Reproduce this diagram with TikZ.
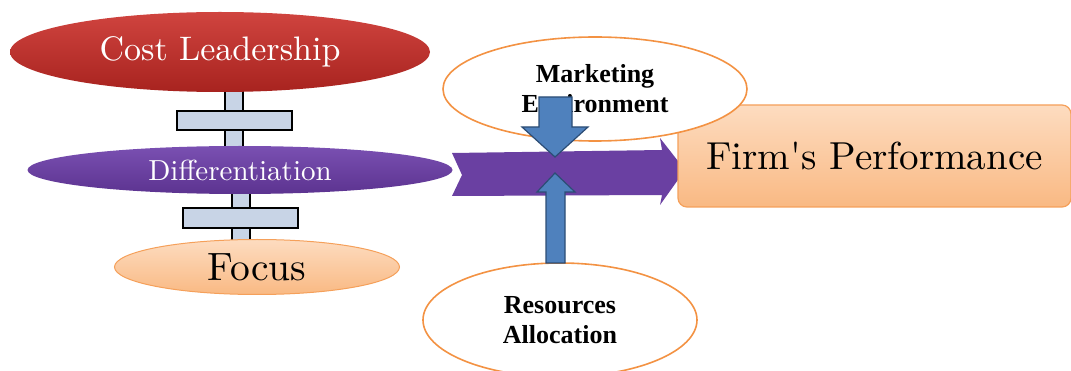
\documentclass[tikz,border=0pt]{standalone}
\usepackage{fontspec}
\newfontfamily\timesfont{Liberation Serif}
\newfontfamily\garfont{lmroman10-regular}[Extension=.otf]
\usetikzlibrary{shapes.geometric,calc}
\definecolor{costtop}{HTML}{D0443F}
\definecolor{costbot}{HTML}{A8231F}
\definecolor{difftop}{HTML}{7A50B2}
\definecolor{diffbot}{HTML}{5C3390}
\definecolor{peachtop}{HTML}{FDDCC0}
\definecolor{peachbot}{HTML}{F9B983}
\definecolor{peachline}{HTML}{F5A05A}
\definecolor{ringline}{HTML}{F39243}
\definecolor{arrowblue}{HTML}{4F81BD}
\definecolor{arrowblueline}{HTML}{2C4D75}
\definecolor{plusfill}{HTML}{C8D4E6}
\definecolor{purplearrow}{HTML}{6A40A2}
\tikzset{
  strat/.style={ellipse, inner sep=0pt},
  ring/.style={ellipse, draw=ringline, line width=1.6pt, fill=white, inner sep=0pt,
    font=\timesfont\bfseries\fontsize{26}{30}\selectfont, align=center},
  plusbar/.style={draw=black, line width=1.2pt, fill=plusfill},
  bluearrow/.style={draw=arrowblueline, line width=1.2pt, fill=arrowblue, line join=miter},
  firmbox/.style={draw=peachline, line width=1.2pt, rounded corners=9pt, top color=peachtop, bottom color=peachbot,
    minimum width=393pt, minimum height=102pt, inner sep=0pt, font=\garfont\fontsize{39}{40}\selectfont},
}
\begin{document}
\begin{tikzpicture}[x=1pt,y=-1pt]
\useasboundingbox (0,0) rectangle (1071,371);
% plus signs (behind ellipses)
\draw[plusbar] (225,88) rectangle (243,150);
\draw[plusbar] (177,111) rectangle (292,130);
\draw[plusbar] (232,188) rectangle (250,242);
\draw[plusbar] (183,208) rectangle (298,228);
% strategy ellipses
\node[strat, minimum width=420pt, minimum height=80pt, top color=costtop, bottom color=costbot,
  text=white, font=\garfont\fontsize{34}{36}\selectfont] (cost) at (220,52) {Cost Leadership};
\node[strat, minimum width=425pt, minimum height=48pt, top color=difftop, bottom color=diffbot,
  text=white, font=\garfont\fontsize{29}{30}\selectfont] (diff) at (240,170) {Differentiation};
\node[strat, minimum width=285pt, minimum height=55pt, top color=peachtop, bottom color=peachbot,
  draw=peachline, line width=1pt, text=black, font=\garfont\fontsize{39.5}{40}\selectfont] (focus) at (257,267) {Focus};
% purple arrow from differentiation to performance
\fill[purplearrow] (452,153) -- (662,150) -- (660,138) -- (685,170) -- (660,205) -- (662,195) -- (452,196)
  -- (462,175) -- cycle;
% firm's performance
\node[firmbox] (firm) at (874.5,156) {Firm's Performance};
% factor ellipses
\node[ring, minimum width=304pt, minimum height=104pt] (mkt) at (595,89) {Marketing\\Environment};
\node[ring, minimum width=274pt, minimum height=114pt] (res) at (560,320) {Resources\\Allocation};
% blue arrows
\draw[bluearrow] (539,97) -- (572,97) -- (572,127) -- (588,127) -- (555,157) -- (522,127) -- (539,127) -- cycle;
\draw[bluearrow] (546,263) -- (546,192) -- (537,192) -- (555,173) -- (575,192) -- (565,192) -- (565,263) -- cycle;
\end{tikzpicture}
\end{document}
